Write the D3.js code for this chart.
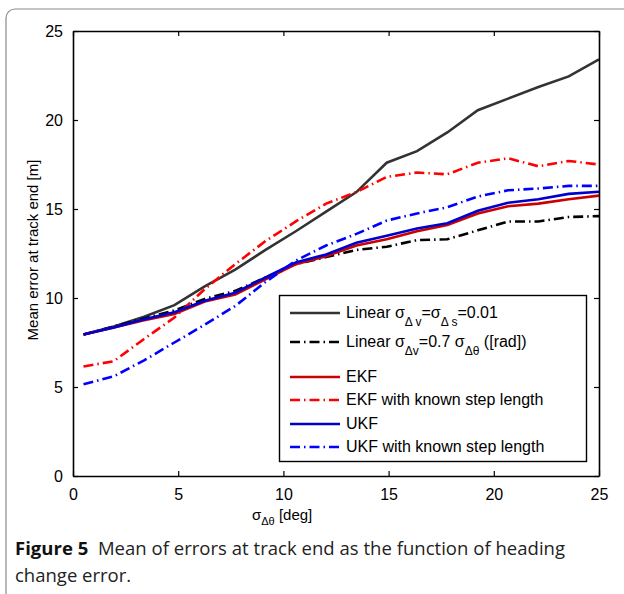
<!DOCTYPE html>
<meta charset="utf-8">
<html lang="en">
<style>
body { margin: 0; background: #fff; }
.tick-label { font-family: "Liberation Sans", Arial, Helvetica, sans-serif; font-size: 16px; fill: #000; }
.axis-title { font-family: "Liberation Sans", Arial, Helvetica, sans-serif; font-size: 15px; fill: #000; }
.legend-text { font-family: "Liberation Sans", Arial, Helvetica, sans-serif; font-size: 16px; fill: #000; }
.caption { font-family: "Open Sans", sans-serif; font-size: 18.5px; fill: #222; }
</style>
<body>
<div id="chart"></div>
<script src="https://cdn.jsdelivr.net/npm/d3@7"></script>
<script>
// x = sigma of heading change error [deg]
var xVals = [0.5, 1.94, 3.38, 4.82, 6.26, 7.71, 9.15, 10.59, 12.03, 13.47, 14.91, 16.35, 17.79, 19.24, 20.68, 22.12, 23.56, 25];

var linear001 = [7.95, 8.4, 8.95, 9.6, 10.65, 11.6, 12.7, 13.75, 14.85, 15.95, 17.6, 18.25, 19.3, 20.55, 21.2, 21.85, 22.45, 23.4];
var linear07  = [7.95, 8.4, 8.85, 9.3, 9.95, 10.4, 11.15, 11.9, 12.3, 12.7, 12.88, 13.25, 13.3, 13.8, 14.3, 14.3, 14.55, 14.6];
var ekf       = [7.95, 8.35, 8.75, 9.1, 9.8, 10.2, 11.05, 11.9, 12.35, 12.95, 13.3, 13.75, 14.1, 14.75, 15.15, 15.3, 15.55, 15.75];
var ekfKnown  = [6.15, 6.45, 7.7, 8.9, 10.5, 11.9, 13.2, 14.3, 15.3, 15.95, 16.8, 17.05, 16.95, 17.6, 17.85, 17.4, 17.7, 17.5];
var ukf       = [7.95, 8.35, 8.8, 9.2, 9.85, 10.3, 11.15, 12.0, 12.45, 13.1, 13.5, 13.9, 14.2, 14.9, 15.35, 15.55, 15.85, 15.97];
var ukfKnown  = [5.15, 5.6, 6.5, 7.5, 8.5, 9.55, 10.9, 12.1, 12.95, 13.6, 14.35, 14.75, 15.1, 15.7, 16.05, 16.15, 16.3, 16.3];

var xTicks = [0, 5, 10, 15, 20, 25];
var yTicks = [0, 5, 10, 15, 20, 25];

var width = 624, height = 594;
var dashDot = "10,4,1.5,4";

var svg = d3.select("#chart").append("svg")
    .attr("width", width)
    .attr("height", height);

// rounded figure frame running off the page
svg.append("rect")
    .attr("x", 6).attr("y", 9)
    .attr("width", 700).attr("height", 700)
    .attr("rx", 9).attr("ry", 9)
    .attr("fill", "none")
    .attr("stroke", "#8a8a8a")
    .attr("stroke-width", 1.2);

var x = d3.scaleLinear().domain([0, 25]).range([73, 599]);
var y = d3.scaleLinear().domain([0, 25]).range([476, 31]);

var series = [
  {name: "lin1", data: linear001, color: "#333333", dash: null},
  {name: "lin2", data: linear07,  color: "#000000", dash: dashDot},
  {name: "ekf",  data: ekf,       color: "#cc0000", dash: null},
  {name: "ekfk", data: ekfKnown,  color: "#ff0000", dash: dashDot},
  {name: "ukf",  data: ukf,       color: "#0000cc", dash: null},
  {name: "ukfk", data: ukfKnown,  color: "#0000ff", dash: dashDot}
];

var line = d3.line()
    .x(function(d, i) { return x(xVals[i]); })
    .y(function(d) { return y(d); });

svg.selectAll("path.series")
    .data(series)
    .enter().append("path")
    .attr("class", "series")
    .attr("d", function(s) { return line(s.data); })
    .attr("fill", "none")
    .attr("stroke", function(s) { return s.color; })
    .attr("stroke-width", 2.6)
    .attr("stroke-dasharray", function(s) { return s.dash; });

// axes box, ticks inward on all sides
var gx = svg.append("g").attr("transform", "translate(0," + y(0) + ")")
    .call(d3.axisBottom(x).tickValues(xTicks).tickSizeInner(-5).tickSizeOuter(0).tickPadding(10));
var gxt = svg.append("g").attr("transform", "translate(0," + y(25) + ")")
    .call(d3.axisTop(x).tickValues(xTicks).tickSizeInner(-5).tickSizeOuter(0).tickFormat(""));
var gy = svg.append("g").attr("transform", "translate(" + x(0) + ",0)")
    .call(d3.axisLeft(y).tickValues(yTicks).tickSizeInner(-5).tickSizeOuter(0).tickPadding(10));
var gyr = svg.append("g").attr("transform", "translate(" + x(25) + ",0)")
    .call(d3.axisRight(y).tickValues(yTicks).tickSizeInner(-5).tickSizeOuter(0).tickFormat(""));

[gx, gxt, gy, gyr].forEach(function(g) {
  g.attr("font-family", null).attr("font-size", null);
  g.select(".domain").attr("stroke", "#000").attr("stroke-width", 1.6);
  g.selectAll(".tick line").attr("stroke", "#000").attr("stroke-width", 1.2);
  g.selectAll(".tick text").attr("class", "tick-label");
});
gx.selectAll(".tick text").attr("dy", "0.9em");

// axis titles
svg.append("text")
    .attr("class", "axis-title")
    .attr("transform", "translate(38,250) rotate(-90)")
    .attr("text-anchor", "middle")
    .text("Mean error at track end [m]");

var xt = svg.append("text")
    .attr("class", "axis-title")
    .attr("x", 252).attr("y", 520);
xt.append("tspan").text("\u03c3");
xt.append("tspan").attr("dy", 5).attr("font-size", 11).text("\u0394\u03b8");
xt.append("tspan").attr("dy", -5).text(" [deg]");

// legend
var legend = svg.append("g");
legend.append("rect")
    .attr("x", 279.5).attr("y", 295.5)
    .attr("width", 307).attr("height", 166)
    .attr("fill", "#fff")
    .attr("stroke", "#000")
    .attr("stroke-width", 1.4);

var legendRows = [
  {y: 313, parts: [["Linear \u03c3", 0], ["\u0394 v", 1], ["=\u03c3", 0], ["\u0394 s", 1], ["=0.01", 0]]},
  {y: 342, parts: [["Linear \u03c3", 0], ["\u0394v", 1], ["=0.7 \u03c3", 0], ["\u0394\u03b8", 1], [" ([rad])", 0]]},
  {y: 377, parts: [["EKF", 0]]},
  {y: 400, parts: [["EKF with known step length", 0]]},
  {y: 424, parts: [["UKF", 0]]},
  {y: 447, parts: [["UKF with known step length", 0]]}
];

legendRows.forEach(function(row, i) {
  var s = series[i];
  legend.append("line")
      .attr("x1", 290).attr("x2", 340)
      .attr("y1", row.y).attr("y2", row.y)
      .attr("stroke", s.color)
      .attr("stroke-width", 2.6)
      .attr("stroke-dasharray", s.dash);
  var t = legend.append("text")
      .attr("class", "legend-text")
      .attr("x", 346).attr("y", row.y + 5);
  var sub = 0;
  row.parts.forEach(function(p) {
    var dy = p[1] === sub ? 0 : (p[1] ? 8 : -8);
    sub = p[1];
    t.append("tspan")
        .attr("dy", dy)
        .attr("font-size", p[1] ? 12 : null)
        .text(p[0]);
  });
});

// caption
var cap1 = svg.append("text").attr("class", "caption").attr("x", 15).attr("y", 555)
    .attr("textLength", 550).attr("lengthAdjust", "spacing");
cap1.append("tspan").attr("font-weight", "bold").attr("fill", "#111").text("Figure 5");
cap1.append("tspan").text("\u00a0\u00a0Mean of errors at track end as the function of heading");
svg.append("text").attr("class", "caption").attr("x", 15).attr("y", 582).text("change error.");
</script>
</body>
</html>
